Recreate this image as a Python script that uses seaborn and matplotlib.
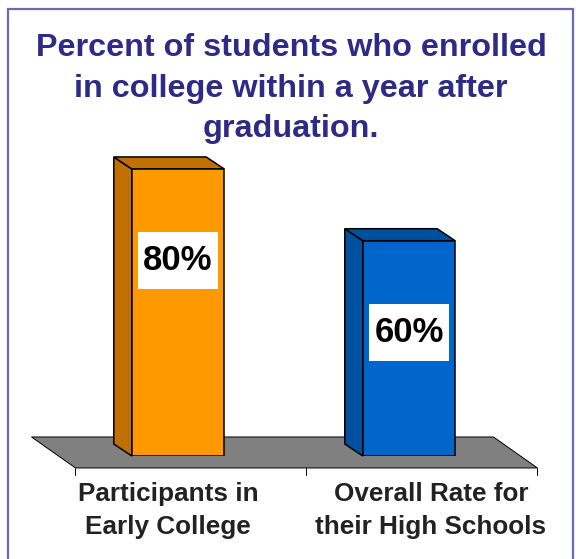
import matplotlib
matplotlib.use('Agg')
import matplotlib.pyplot as plt
import matplotlib.transforms as mtransforms
from matplotlib.patches import Polygon, Rectangle
import seaborn as sns

# data
categories = ['Participants in\nEarly College', 'Overall Rate for\ntheir High Schools']
values = [80, 60]
value_labels = ['80%', '60%']
front_colors = ['#FF9900', '#0066CC']
side_colors = ['#C07000', '#0050A0']
title = 'Percent of students who enrolled\nin college within a year after\ngraduation.'

sns.set_style('white')
plt.rcParams['font.family'] = ['Liberation Sans', 'DejaVu Sans']

fig = plt.figure(figsize=(5.76, 5.59), dpi=100)
ax = fig.add_axes([0.1085, 0.1843, 0.802, 0.6418])

sns.barplot(x=categories, y=values, hue=categories, palette=front_colors,
            saturation=1, legend=False, width=0.4, errorbar=None,
            edgecolor='black', linewidth=1.1, ax=ax, zorder=2)
ax.set_xlim(-0.5, 1.5)
ax.set_ylim(0, 100)


def shift(x, y, dx, dy):
    # move a data point by some pixels
    px, py = ax.transData.transform((x, y))
    return ax.transData.inverted().transform((px + dx, py + dy))


# floor
fl = [shift(-0.5, 0, 13, -12), shift(1.5, 0, 13, -12),
      shift(1.5, 0, -31, 19), shift(-0.5, 0, -31, 19)]
ax.add_patch(Polygon(fl, closed=True, fc='#808080', ec='black', lw=0.7,
                     zorder=0.5, clip_on=False))
for xb in [-0.5, 0.5, 1.5]:
    a = shift(xb, 0, 13, -12)
    b = shift(xb, 0, 13, -19)
    ax.plot([a[0], b[0]], [a[1], b[1]], color='black', lw=0.7, clip_on=False)

# 3d side + top faces
for p, c in zip(ax.patches[:len(values)], side_colors):
    x0, w, h = p.get_x(), p.get_width(), p.get_height()
    side = [(x0, 0), (x0, h), shift(x0, h, -18, 12), shift(x0, 0, -18, 12)]
    top = [(x0, h), (x0 + w, h), shift(x0 + w, h, -18, 12), shift(x0, h, -18, 12)]
    for poly in (side, top):
        ax.add_patch(Polygon(poly, closed=True, fc=c, ec='black', lw=1.1,
                             zorder=1.5, clip_on=False))

# value labels in white boxes
for i, (v, t) in enumerate(zip(values, value_labels)):
    lo = shift(i, v, -40, -92 - 28.5)
    hi = shift(i, v, 40, -92 + 28.5)
    ax.add_patch(Rectangle(lo, hi[0] - lo[0], hi[1] - lo[1], fc='white',
                           ec='none', zorder=4))
    ax.annotate(t, (i, v), xytext=(0, -66), textcoords='offset points',
                ha='center', va='center', fontsize=25, fontweight='bold',
                color='black', zorder=5)

sns.despine(ax=ax, left=True, bottom=True)
ax.set_yticks([])
ax.set_xlabel('')
ax.set_ylabel('')
ax.tick_params(axis='x', length=0, pad=19)
for lab, dx in zip(ax.get_xticklabels(), [-10, 22]):
    lab.set_fontsize(18.8)
    lab.set_fontweight('bold')
    lab.set_color('#222222')
    lab.set_linespacing(1.45)
    lab.set_transform(lab.get_transform() +
                      mtransforms.ScaledTranslation(dx / 100, 0, fig.dpi_scale_trans))

fig.text(291 / 576, 1 - 33 / 559, title, ha='center', va='top',
         fontsize=23.3, fontweight='bold', color='#2E2A86', linespacing=1.46)

# border
fig.patches.append(Rectangle((8 / 576, -0.05), 565 / 576, 1.05 - 9 / 559,
                             transform=fig.transFigure, fill=False,
                             ec='#6A6AB0', lw=1.6))

fig.savefig('out.png', dpi=100)
